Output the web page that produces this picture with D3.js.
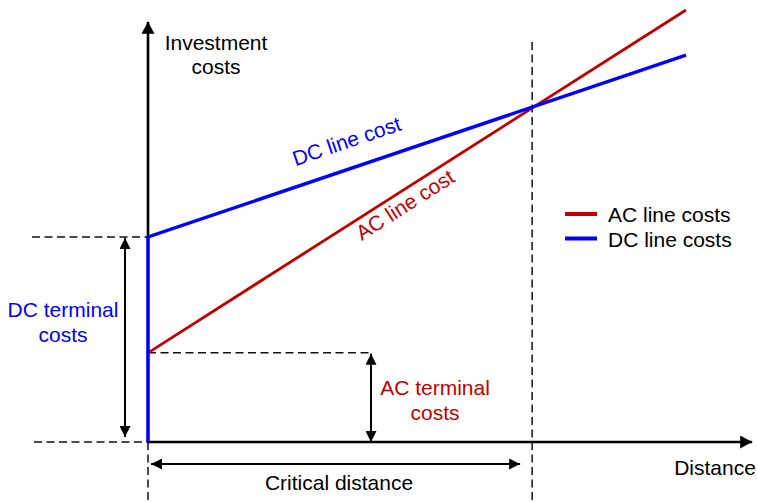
<!DOCTYPE html>
<html>
<head>
<meta charset="utf-8">
<script src="https://cdn.jsdelivr.net/npm/d3@7"></script>
<style>
  html, body { margin: 0; padding: 0; background: #fff; }
  svg { display: block; font-family: "Liberation Sans", Arial, sans-serif; }
</style>
</head>
<body>
<svg id="chart" width="757" height="502"></svg>
<script>
// ---- data ----
const distances = [0, 100];
const acCosts = [17.4, 84.3];
const dcCosts = [40, 75.5];
const criticalDistance = 71.4;
const xAxisMax = 112.3;
const yAxisMax = 82;
const seriesNames = ["AC line costs", "DC line costs"];
const seriesColors = ["#c00000", "#0000ff"];

const W = 757, H = 502;
const svg = d3.select("#chart");

const x = d3.scaleLinear().domain([0, 100]).range([148, 686]);
const y = d3.scaleLinear().domain([0, 100]).range([442, -70.5]);

// markers
const defs = svg.append("defs");
defs.append("marker").attr("id", "axisHead")
  .attr("markerUnits", "userSpaceOnUse")
  .attr("viewBox", "0 0 12 13").attr("refX", 12).attr("refY", 6.5)
  .attr("markerWidth", 12).attr("markerHeight", 13)
  .attr("orient", "auto")
  .append("path").attr("d", "M0,0 L12,6.5 L0,13 Z").attr("fill", "#000");
defs.append("marker").attr("id", "smallHead")
  .attr("markerUnits", "userSpaceOnUse")
  .attr("viewBox", "0 0 11 11").attr("refX", 11).attr("refY", 5.5)
  .attr("markerWidth", 11).attr("markerHeight", 11)
  .attr("orient", "auto-start-reverse")
  .append("path").attr("d", "M0,0 L11,5.5 L0,11 Z").attr("fill", "#000");

const dash = "8,4.5";
const g = svg.append("g");

// dashed guides
function dline(x1, y1, x2, y2) {
  g.append("line").attr("x1", x1).attr("y1", y1).attr("x2", x2).attr("y2", y2)
    .attr("stroke", "#111").attr("stroke-width", 1.5).attr("stroke-dasharray", dash);
}
dline(32, y(dcCosts[0]), x(0), y(dcCosts[0]));
dline(34, y(0), x(0), y(0));
dline(x(0), y(acCosts[0]), 372, y(acCosts[0]));
dline(x(0), y(0), x(0), H);
dline(x(criticalDistance), 42, x(criticalDistance), H);

// axes
g.append("line").attr("x1", x(0)).attr("y1", y(0)).attr("x2", x(0)).attr("y2", y(yAxisMax))
  .attr("stroke", "#000").attr("stroke-width", 2.6).attr("marker-end", "url(#axisHead)");
g.append("line").attr("x1", x(0) - 1.3).attr("y1", y(0)).attr("x2", x(xAxisMax)).attr("y2", y(0))
  .attr("stroke", "#000").attr("stroke-width", 2.6).attr("marker-end", "url(#axisHead)");

// series lines
const line = d3.line().x(d => x(d[0])).y(d => y(d[1]));
g.append("path").datum(distances.map((d, i) => [d, acCosts[i]]))
  .attr("d", line).attr("fill", "none").attr("stroke", seriesColors[0]).attr("stroke-width", 2.8);
g.append("path").datum([[0, 0]].concat(distances.map((d, i) => [d, dcCosts[i]])))
  .attr("d", line).attr("fill", "none").attr("stroke", seriesColors[1]).attr("stroke-width", 3.4)
  .attr("stroke-linejoin", "miter");

// double arrows
function darrow(x1, y1, x2, y2) {
  g.append("line").attr("x1", x1).attr("y1", y1).attr("x2", x2).attr("y2", y2)
    .attr("stroke", "#000").attr("stroke-width", 2)
    .attr("marker-start", "url(#smallHead)").attr("marker-end", "url(#smallHead)");
}
darrow(125, y(dcCosts[0]) + 1, 125, y(0) - 5);
darrow(371, y(acCosts[0]) + 1, 371, y(0));
darrow(x(0) + 3, 464, x(criticalDistance) - 12, 464);

// texts
const fs = "21px";
function txt(s, tx, ty, color, anchor, rot) {
  const t = g.append("text").attr("x", tx).attr("y", ty).attr("fill", color)
    .attr("font-size", fs).attr("text-anchor", anchor || "middle").text(s);
  if (rot) t.attr("transform", `rotate(${rot},${tx},${ty})`);
  return t;
}
txt("Investment", 216, 50, "#000");
txt("costs", 216, 74, "#000");
txt("DC terminal", 63, 317, seriesColors[1]);
txt("costs", 63, 342, seriesColors[1]);
txt("AC terminal", 435, 395, seriesColors[0]);
txt("costs", 435, 420, seriesColors[0]);
txt("Critical distance", 339, 490, "#000");
txt("Distance", 715, 475, "#000");

const dcAngle = -18.7, acAngle = -32.5;
txt("DC line cost", 349, 148, seriesColors[1], "middle", dcAngle);
txt("AC line cost", 409, 211, seriesColors[0], "middle", acAngle);

// legend
seriesNames.forEach((name, i) => {
  const ly = 214 + i * 24.5;
  g.append("line").attr("x1", 565).attr("x2", 597).attr("y1", ly).attr("y2", ly)
    .attr("stroke", seriesColors[i]).attr("stroke-width", 4);
  g.append("text").attr("x", 608).attr("y", ly + 8).attr("font-size", fs).attr("fill", "#000").text(name);
});
</script>
</body>
</html>
